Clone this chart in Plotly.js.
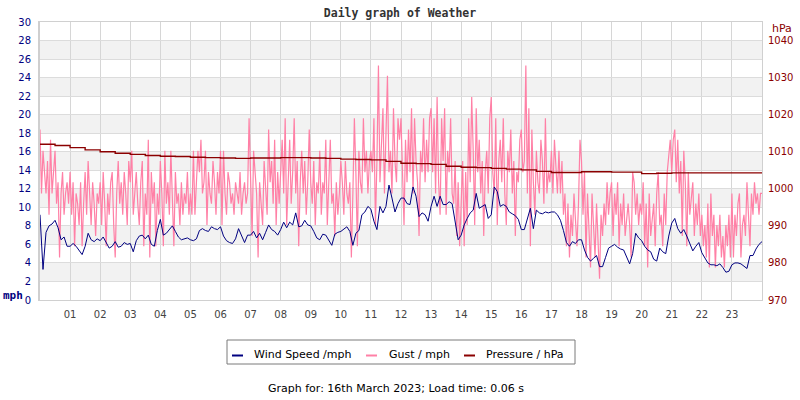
<!DOCTYPE html>
<html>
<head>
<meta charset="utf-8">
<script src="https://cdn.plot.ly/plotly-3.0.1.min.js"></script>
<style>html,body{margin:0;padding:0;background:#fff}#chart{width:800px;height:400px}</style>
</head>
<body>
<div id="chart"></div>
<script>
// ---- data ----
const hourLabels = ["01","02","03","04","05","06","07","08","09","10","11","12","13","14","15","16","17","18","19","20","21","22","23"];
const hourTicks = [1,2,3,4,5,6,7,8,9,10,11,12,13,14,15,16,17,18,19,20,21,22,23];

// wind speed, mph, every 6 minutes from 00:00
const windSpeed = [
9.2,3.3,7.3,8.0,8.2,8.6,7.8,6.5,6.8,5.8,
5.8,6.1,5.8,5.4,4.9,5.8,7.2,6.5,6.3,6.6,
6.4,6.8,6.2,5.6,5.8,6.3,5.7,5.8,6.2,6.0,
6.1,5.2,6.4,6.9,7.0,6.6,7.0,6.0,5.8,7.5,
8.7,7.0,7.2,7.6,8.0,7.4,6.8,6.5,6.6,6.7,
6.5,6.4,6.6,7.5,7.7,7.5,7.4,7.9,7.7,7.6,
7.9,6.9,6.4,6.2,6.1,6.6,7.7,7.0,6.2,7.0,
7.0,7.4,6.7,7.2,6.5,7.3,8.1,7.6,7.4,7.0,
7.6,8.4,7.8,8.4,8.1,9.4,7.9,8.0,8.6,8.1,
8.0,7.4,6.7,6.5,7.1,7.0,6.4,5.9,7.1,7.3,
7.4,7.7,7.9,7.4,5.9,7.2,7.5,9.2,9.5,10.1,
9.8,8.5,7.6,10.1,9.4,10.1,12.4,11.0,9.5,10.4,
11.0,11.0,10.4,10.3,12.2,11.2,9.0,9.4,9.2,8.5,
10.1,11.2,10.1,11.2,10.3,10.3,10.6,10.4,8.6,6.5,
7.0,8.1,8.8,9.4,9.7,11.5,9.9,10.1,10.3,8.8,
9.2,12.2,11.7,10.1,10.3,10.1,9.5,9.3,9.1,8.7,
7.6,7.6,8.8,9.9,7.7,9.7,9.4,9.3,9.5,9.4,
9.5,9.5,9.2,8.6,7.5,6.2,5.8,6.3,6.1,6.5,
6.5,5.4,4.6,4.2,4.5,4.8,3.6,3.6,4.6,5.6,
5.8,6.0,5.7,5.5,5.4,4.7,3.9,5.0,7.2,6.7,
6.4,5.8,5.4,5.2,4.4,4.2,5.6,5.2,5.0,6.9,
8.3,8.8,7.7,7.2,7.6,6.9,6.1,5.3,5.8,6.2,
5.1,4.5,4.0,3.8,3.8,3.7,3.9,3.5,3.0,3.1,
3.8,4.0,4.0,3.9,3.6,3.4,4.8,4.8,5.5,6.0,
6.3];
const windStepHours = 0.1;

// gust, mph, every 3 minutes from 00:00
const gust = [
18.4,11.5,16.1,13.8,11.5,15.0,9.2,17.3,11.5,13.8,16.1,10.4,12.7,4.6,11.5,13.8,9.2,11.5,12.7,10.4,
13.8,9.2,12.7,5.8,11.5,10.4,8.1,12.7,5.8,10.4,13.8,9.2,15.0,11.5,8.1,12.7,10.4,6.9,11.5,10.4,
12.7,8.1,13.8,10.4,5.8,11.5,9.2,12.7,13.8,8.1,4.6,11.5,15.0,10.4,12.7,9.2,13.8,11.5,8.1,15.0,
12.7,16.1,9.2,11.5,13.8,10.4,8.1,12.7,15.0,5.8,11.5,9.2,17.3,4.6,13.8,10.4,12.7,5.8,11.5,9.2,
15.0,11.5,5.8,16.1,10.4,12.7,9.2,16.1,11.5,5.8,13.8,10.4,11.5,8.1,12.7,9.2,11.5,10.4,13.8,9.2,
11.5,9.2,16.1,9.2,12.7,16.1,13.8,17.3,11.5,12.7,16.1,8.1,13.8,11.5,10.4,15.0,12.7,9.2,13.8,11.5,
16.1,8.1,16.1,11.5,9.2,13.8,12.7,10.4,11.5,9.2,12.7,11.5,10.4,13.8,9.2,11.5,12.7,10.4,11.5,19.6,
11.5,6.9,16.1,13.8,11.5,4.6,12.7,10.4,8.1,15.0,11.5,9.2,18.4,12.7,15.0,10.4,17.3,8.1,13.8,10.4,
13.8,17.3,11.5,19.6,8.1,12.7,17.3,10.4,13.8,19.6,11.5,15.0,5.8,12.7,16.1,11.5,15.0,9.2,12.7,18.4,
12.7,10.4,15.0,8.1,12.7,11.5,16.1,9.2,12.7,11.5,17.3,8.1,13.8,17.3,10.4,11.5,6.9,12.7,9.2,11.5,
15.0,12.7,9.2,15.0,11.5,10.4,12.7,4.6,11.5,19.6,13.8,5.8,16.1,12.7,11.5,19.6,13.8,16.1,11.5,15.0,
16.1,13.8,19.6,8.1,15.0,25.3,12.7,17.3,20.7,11.5,19.6,24.2,13.8,16.1,11.5,20.7,15.0,12.7,19.6,17.3,
19.6,15.0,8.1,17.3,12.7,18.4,13.8,20.7,11.5,19.6,15.0,12.7,6.9,16.1,13.8,19.6,12.7,17.3,13.8,19.6,
20.7,13.8,19.6,11.5,21.9,12.7,9.2,19.6,15.0,20.7,9.2,16.1,13.8,19.6,11.5,10.4,15.0,6.9,12.7,5.8,
11.5,15.0,5.8,13.8,8.1,19.6,12.7,21.9,16.1,8.1,20.7,13.8,17.3,11.5,15.0,6.9,13.8,16.1,11.5,19.6,
21.9,13.8,11.5,19.6,8.1,15.0,17.3,12.7,19.6,11.5,8.1,16.1,13.8,18.4,11.5,15.0,6.9,13.8,12.7,17.3,
18.4,13.8,15.0,25.3,11.5,20.7,5.8,18.4,12.7,9.2,16.1,12.7,11.5,17.3,15.0,10.4,19.6,11.5,13.8,12.7,
16.1,11.5,17.3,13.8,11.5,16.1,11.5,15.0,9.2,11.5,5.8,10.4,4.6,9.2,6.9,11.5,8.1,5.8,10.4,17.3,
15.0,9.2,13.8,4.6,11.5,6.9,3.5,11.5,8.1,4.6,10.4,5.8,2.3,9.2,6.9,10.4,8.1,12.7,9.2,11.5,
12.7,6.9,11.5,9.2,12.7,5.8,10.4,8.1,11.5,6.9,9.2,10.4,8.1,4.6,13.8,12.7,9.2,11.5,8.1,10.4,
9.2,12.7,5.8,10.4,3.5,11.5,6.9,9.2,10.4,5.8,11.5,13.8,8.1,9.2,5.8,11.5,8.1,13.8,16.1,17.3,
13.8,17.3,18.4,12.7,17.3,11.5,15.0,6.9,16.1,12.7,5.8,13.8,9.2,11.5,12.7,6.9,10.4,8.1,11.5,6.9,
9.2,5.8,8.1,4.6,10.4,3.5,11.5,6.9,9.2,3.5,8.1,5.8,9.2,4.6,6.9,3.5,8.1,5.8,9.2,4.6,
11.5,4.6,9.2,6.9,10.4,11.5,4.6,8.1,9.2,6.9,12.7,9.2,5.8,11.5,9.2,12.7,10.4,11.5,9.2,11.5,
11.5];
const gustStepHours = 0.05;

// pressure, hPa, every 30 minutes from 00:00
const pressure = [
1012.0,1011.7,1011.1,1010.5,1010.0,1009.6,1009.3,1009.0,1008.8,1008.7,
1008.5,1008.4,1008.3,1008.2,1008.3,1008.3,1008.4,1008.4,1008.3,1008.2,
1008.0,1007.9,1007.8,1007.4,1006.9,1006.8,1006.6,1006.1,1005.8,1005.7,
1005.5,1005.3,1005.1,1004.7,1004.4,1004.4,1004.6,1004.6,1004.5,1004.5,
1004.1,1004.2,1004.3,1004.3,1004.3,1004.3,1004.3,1004.3,1004.4];
const pressureStepHours = 0.5;

const leftTicks = [0,2,4,6,8,10,12,14,16,18,20,22,24,26,28,30];
const rightTicks = [970,980,990,1000,1010,1020,1030,1040];
const bandStarts = [2,6,10,14,18,22,26];

const seriesNames = ["Wind Speed /mph","Gust / mph","Pressure / hPa"];
const seriesColors = ["#000080","#ff80a6","#8b0000"];

// ---- build ----
const tW = windSpeed.map((_, i) => i * windStepHours);
const tG = gust.map((_, i) => i * gustStepHours);
const tP = pressure.map((_, i) => i * pressureStepHours);

const traces = [
  {x: tG, y: gust, type: 'scatter', mode: 'lines', name: seriesNames[1],
   line: {color: seriesColors[1], width: 1.2}, hoverinfo: 'skip'},
  {x: tW, y: windSpeed, type: 'scatter', mode: 'lines', name: seriesNames[0],
   line: {color: seriesColors[0], width: 1}, hoverinfo: 'skip'},
  {x: tP, y: pressure, type: 'scatter', mode: 'lines', name: seriesNames[2], yaxis: 'y2',
   line: {color: seriesColors[2], width: 1.4, shape: 'hv'}, hoverinfo: 'skip'}
];

const L = 40, R = 762, T = 22, B = 300;
const px = v => (v - L) / (R - L);
const py = v => (B - v) / (B - T);

const shapes = bandStarts.map(s => ({
  type: 'rect', xref: 'paper', yref: 'y', x0: 0, x1: 1, y0: s, y1: s + 2,
  fillcolor: '#f2f2f2', line: {width: 0}, layer: 'below'
}));

// legend box
shapes.push({type: 'rect', xref: 'paper', yref: 'paper', x0: px(227), x1: px(575), y0: py(364), y1: py(340),
  line: {color: '#7a7a7a', width: 1}, fillcolor: 'rgba(0,0,0,0)'});
const legX = [[232, 243, 252], [366, 377, 387], [464, 475, 484]];
const legOrder = [0, 1, 2];
const annotations = [];
legOrder.forEach((k, j) => {
  shapes.push({type: 'line', xref: 'paper', yref: 'paper', x0: px(legX[j][0]), x1: px(legX[j][1]),
    y0: py(355.5), y1: py(355.5), line: {color: seriesColors[k], width: 2}});
  annotations.push({text: seriesNames[k], xref: 'paper', yref: 'paper', x: px(legX[j][2]), y: py(354),
    xanchor: 'left', yanchor: 'middle', showarrow: false,
    font: {family: 'DejaVu Sans', size: 11, color: '#000'}});
});
annotations.push({text: 'mph', xref: 'paper', yref: 'paper', x: px(12.5), y: py(295.5),
  xanchor: 'center', yanchor: 'middle', showarrow: false,
  font: {family: 'DejaVu Sans Mono', size: 11, color: '#000080', weight: 'bold'}});
annotations.push({text: 'hPa', xref: 'paper', yref: 'paper', x: px(782), y: py(29),
  xanchor: 'center', yanchor: 'middle', showarrow: false,
  font: {family: 'DejaVu Sans', size: 11, color: '#8b0000'}});
annotations.push({text: 'Graph for: 16th March 2023; Load time: 0.06 s', xref: 'paper', yref: 'paper',
  x: px(396), y: py(388), xanchor: 'center', yanchor: 'middle', showarrow: false,
  font: {family: 'DejaVu Sans', size: 11, color: '#000'}});

const layout = {
  width: 800, height: 400,
  margin: {l: L, r: 800 - R, t: T, b: 400 - B, pad: 0},
  paper_bgcolor: '#fff', plot_bgcolor: '#fff',
  showlegend: false,
  title: {text: 'Daily graph of Weather', x: 0.5, xanchor: 'center', y: 1 - 13 / 400, yanchor: 'middle',
    yref: 'container', font: {family: 'DejaVu Sans Mono', size: 11.5, color: '#333', weight: 'bold'}},
  xaxis: {range: [0, 24], tickvals: hourTicks, ticktext: hourLabels, ticks: '',
    showgrid: true, gridcolor: '#d6d6d6', gridwidth: 1, zeroline: false,
    showline: true, mirror: true, linecolor: '#d0d0d0', linewidth: 1,
    tickfont: {family: 'DejaVu Sans', size: 10, color: '#444'}, ticklabelstandoff: 5, fixedrange: true},
  yaxis: {range: [0, 30], tickvals: leftTicks, ticks: '', showgrid: true, gridcolor: '#dcdcdc', gridwidth: 1,
    zeroline: false, showline: true, linecolor: '#cfcfcf', linewidth: 2,
    tickfont: {family: 'DejaVu Sans', size: 10, color: '#000080'}, ticklabelstandoff: 5, fixedrange: true},
  yaxis2: {range: [970, 1045], tickvals: rightTicks, overlaying: 'y', side: 'right', ticks: '',
    showgrid: false, zeroline: false, showline: true, linecolor: '#d0d0d0', linewidth: 1,
    tickfont: {family: 'DejaVu Sans', size: 10, color: '#8b0000'}, ticklabelstandoff: 3, fixedrange: true},
  shapes: shapes,
  annotations: annotations
};

Plotly.newPlot('chart', traces, layout, {displayModeBar: false, staticPlot: true});
</script>
</body>
</html>
